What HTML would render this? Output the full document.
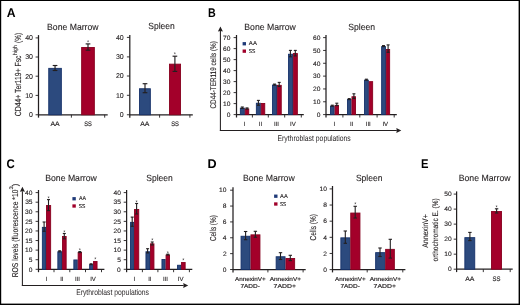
<!DOCTYPE html>
<html><head><meta charset="utf-8"><style>
html,body{margin:0;padding:0;background:#fff;}
svg{display:block;font-family:"Liberation Sans", sans-serif;will-change:transform;text-rendering:geometricPrecision;}
</style></head><body>
<svg width="520" height="305" viewBox="0 0 520 305">
<rect x="0" y="0" width="520" height="305" fill="#fff"/>
<text transform="translate(6.8,16.7) scale(0.97,1)" font-size="12.6" font-weight="bold" fill="#000">A</text>
<text transform="translate(208.0,16.7) scale(0.85,1)" font-size="12.6" font-weight="bold" fill="#000">B</text>
<text transform="translate(6.4,167.9) scale(0.91,1)" font-size="12.6" font-weight="bold" fill="#000">C</text>
<text transform="translate(207.5,167.9) scale(1.0,1)" font-size="12.6" font-weight="bold" fill="#000">D</text>
<text transform="translate(420.9,167.9) scale(0.89,1)" font-size="12.6" font-weight="bold" fill="#000">E</text>
<text x="47.09" y="29.5" font-size="9.0" fill="#231f20" stroke="#231f20" stroke-width="0.1" textLength="51.49" lengthAdjust="spacingAndGlyphs">Bone Marrow</text>
<text x="148.22" y="29.4" font-size="9.0" fill="#231f20" stroke="#231f20" stroke-width="0.1" textLength="26.55" lengthAdjust="spacingAndGlyphs">Spleen</text>
<text x="244.28" y="29.5" font-size="9.0" fill="#231f20" stroke="#231f20" stroke-width="0.1" textLength="51.59" lengthAdjust="spacingAndGlyphs">Bone Marrow</text>
<text x="348.31" y="29.8" font-size="9.0" fill="#231f20" stroke="#231f20" stroke-width="0.1" textLength="26.86" lengthAdjust="spacingAndGlyphs">Spleen</text>
<text x="45.18" y="181.1" font-size="9.0" fill="#231f20" stroke="#231f20" stroke-width="0.1" textLength="51.69" lengthAdjust="spacingAndGlyphs">Bone Marrow</text>
<text x="146.22" y="181.1" font-size="9.0" fill="#231f20" stroke="#231f20" stroke-width="0.1" textLength="26.55" lengthAdjust="spacingAndGlyphs">Spleen</text>
<text x="242.88" y="181.2" font-size="9.0" fill="#231f20" stroke="#231f20" stroke-width="0.1" textLength="51.89" lengthAdjust="spacingAndGlyphs">Bone Marrow</text>
<text x="355.91" y="181.1" font-size="9.0" fill="#231f20" stroke="#231f20" stroke-width="0.1" textLength="26.65" lengthAdjust="spacingAndGlyphs">Spleen</text>
<text x="458.68" y="181.2" font-size="9.0" fill="#231f20" stroke="#231f20" stroke-width="0.1" textLength="51.89" lengthAdjust="spacingAndGlyphs">Bone Marrow</text>
<line x1="38.5" y1="35.1" x2="38.5" y2="117.65" stroke="#231f20" stroke-width="1.25"/>
<line x1="35.6" y1="114.75" x2="38.5" y2="114.75" stroke="#231f20" stroke-width="0.9"/>
<text x="29.08" y="117.21" font-size="7.0" fill="#231f20" stroke="#231f20" stroke-width="0.12" textLength="3.89" lengthAdjust="spacingAndGlyphs">0</text>
<line x1="35.6" y1="95.4" x2="38.5" y2="95.4" stroke="#231f20" stroke-width="0.9"/>
<text x="25.19" y="97.86" font-size="7.0" fill="#231f20" stroke="#231f20" stroke-width="0.12" textLength="7.79" lengthAdjust="spacingAndGlyphs">10</text>
<line x1="35.6" y1="76.2" x2="38.5" y2="76.2" stroke="#231f20" stroke-width="0.9"/>
<text x="25.19" y="78.66" font-size="7.0" fill="#231f20" stroke="#231f20" stroke-width="0.12" textLength="7.79" lengthAdjust="spacingAndGlyphs">20</text>
<line x1="35.6" y1="57" x2="38.5" y2="57" stroke="#231f20" stroke-width="0.9"/>
<text x="25.19" y="59.46" font-size="7.0" fill="#231f20" stroke="#231f20" stroke-width="0.12" textLength="7.79" lengthAdjust="spacingAndGlyphs">30</text>
<line x1="35.6" y1="37.9" x2="38.5" y2="37.9" stroke="#231f20" stroke-width="0.9"/>
<text x="25.19" y="40.36" font-size="7.0" fill="#231f20" stroke="#231f20" stroke-width="0.12" textLength="7.79" lengthAdjust="spacingAndGlyphs">40</text>
<line x1="38.5" y1="114.75" x2="107.7" y2="114.75" stroke="#231f20" stroke-width="1.25"/>
<line x1="71.4" y1="114.75" x2="71.4" y2="117.65" stroke="#231f20" stroke-width="0.9"/>
<line x1="104.7" y1="114.75" x2="104.7" y2="117.65" stroke="#231f20" stroke-width="0.9"/>
<rect x="48.75" y="68.35" width="12.6" height="46.4" fill="#2c4a7e" stroke="#16316a" stroke-width="0.9"/>
<rect x="81.65" y="47.45" width="12.7" height="67.3" fill="#a3002a" stroke="#88001f" stroke-width="0.9"/>
<line x1="55.05" y1="65.5" x2="55.05" y2="70.5" stroke="#231f20" stroke-width="1.15"/>
<line x1="52.7" y1="65.5" x2="57.4" y2="65.5" stroke="#231f20" stroke-width="1.15"/>
<line x1="52.7" y1="70.5" x2="57.4" y2="70.5" stroke="#231f20" stroke-width="1.15"/>
<line x1="88" y1="43.9" x2="88" y2="50.2" stroke="#231f20" stroke-width="1.15"/>
<line x1="85.65" y1="43.9" x2="90.35" y2="43.9" stroke="#231f20" stroke-width="1.15"/>
<line x1="85.65" y1="50.2" x2="90.35" y2="50.2" stroke="#231f20" stroke-width="1.15"/>
<text x="88" y="43.82" font-size="5.5" text-anchor="middle" fill="#231f20">*</text>
<text x="50.48" y="125.9" font-size="6.6" fill="#231f20" stroke="#231f20" stroke-width="0.15" textLength="9.23" lengthAdjust="spacingAndGlyphs">AA</text>
<text x="84.14" y="125.9" font-size="6.6" fill="#231f20" stroke="#231f20" stroke-width="0.15" textLength="7.62" lengthAdjust="spacingAndGlyphs">SS</text>
<text transform="rotate(-90)" x="-116.24" y="20.5" font-size="8.8" fill="#231f20" stroke="#231f20" stroke-width="0.12" textLength="60.73" lengthAdjust="spacingAndGlyphs">CD44+ Ter119+ Fsc</text>
<text transform="rotate(-90)" x="-54.96" y="16.6" font-size="5.8" fill="#231f20" stroke="#231f20" stroke-width="0.12" textLength="9.7" lengthAdjust="spacingAndGlyphs">high</text>
<text transform="rotate(-90)" x="-43.01" y="20.5" font-size="8.8" fill="#231f20" stroke="#231f20" stroke-width="0.12" textLength="10.11" lengthAdjust="spacingAndGlyphs">(%)</text>
<line x1="129.8" y1="35" x2="129.8" y2="117.65" stroke="#231f20" stroke-width="1.25"/>
<line x1="126.9" y1="114.75" x2="129.8" y2="114.75" stroke="#231f20" stroke-width="0.9"/>
<text x="119.78" y="117.21" font-size="7.0" fill="#231f20" stroke="#231f20" stroke-width="0.12" textLength="3.89" lengthAdjust="spacingAndGlyphs">0</text>
<line x1="126.9" y1="95.3" x2="129.8" y2="95.3" stroke="#231f20" stroke-width="0.9"/>
<text x="115.89" y="97.76" font-size="7.0" fill="#231f20" stroke="#231f20" stroke-width="0.12" textLength="7.79" lengthAdjust="spacingAndGlyphs">10</text>
<line x1="126.9" y1="76" x2="129.8" y2="76" stroke="#231f20" stroke-width="0.9"/>
<text x="115.89" y="78.46" font-size="7.0" fill="#231f20" stroke="#231f20" stroke-width="0.12" textLength="7.79" lengthAdjust="spacingAndGlyphs">20</text>
<line x1="126.9" y1="56.9" x2="129.8" y2="56.9" stroke="#231f20" stroke-width="0.9"/>
<text x="115.89" y="59.36" font-size="7.0" fill="#231f20" stroke="#231f20" stroke-width="0.12" textLength="7.79" lengthAdjust="spacingAndGlyphs">30</text>
<line x1="126.9" y1="37.4" x2="129.8" y2="37.4" stroke="#231f20" stroke-width="0.9"/>
<text x="115.89" y="39.86" font-size="7.0" fill="#231f20" stroke="#231f20" stroke-width="0.12" textLength="7.79" lengthAdjust="spacingAndGlyphs">40</text>
<line x1="129.8" y1="114.75" x2="192.8" y2="114.75" stroke="#231f20" stroke-width="1.25"/>
<line x1="159.6" y1="114.75" x2="159.6" y2="117.65" stroke="#231f20" stroke-width="0.9"/>
<line x1="189.9" y1="114.75" x2="189.9" y2="117.65" stroke="#231f20" stroke-width="0.9"/>
<rect x="139.45" y="88.75" width="10.9" height="26" fill="#2c4a7e" stroke="#16316a" stroke-width="0.9"/>
<rect x="169.45" y="64.15" width="11.1" height="50.6" fill="#a3002a" stroke="#88001f" stroke-width="0.9"/>
<line x1="145" y1="83.7" x2="145" y2="92.7" stroke="#231f20" stroke-width="1.15"/>
<line x1="142.65" y1="83.7" x2="147.35" y2="83.7" stroke="#231f20" stroke-width="1.15"/>
<line x1="142.65" y1="92.7" x2="147.35" y2="92.7" stroke="#231f20" stroke-width="1.15"/>
<line x1="174.9" y1="56.2" x2="174.9" y2="71.4" stroke="#231f20" stroke-width="1.15"/>
<line x1="172.55" y1="56.2" x2="177.25" y2="56.2" stroke="#231f20" stroke-width="1.15"/>
<line x1="172.55" y1="71.4" x2="177.25" y2="71.4" stroke="#231f20" stroke-width="1.15"/>
<text x="174.9" y="56.22" font-size="5.5" text-anchor="middle" fill="#231f20">*</text>
<text x="140.18" y="125.9" font-size="6.6" fill="#231f20" stroke="#231f20" stroke-width="0.15" textLength="9.13" lengthAdjust="spacingAndGlyphs">AA</text>
<text x="171.14" y="125.9" font-size="6.6" fill="#231f20" stroke="#231f20" stroke-width="0.15" textLength="7.73" lengthAdjust="spacingAndGlyphs">SS</text>
<line x1="220.4" y1="31.1" x2="220.4" y2="131.03" stroke="#231f20" stroke-width="1.05"/>
<line x1="219.88" y1="130.5" x2="396.8" y2="130.5" stroke="#231f20" stroke-width="1.05"/>
<polygon points="220.4,26.6 222.9,31.6 220.4,31.1 217.9,31.6" fill="#231f20"/>
<polygon points="401.3,130.5 396.3,133 396.8,130.5 396.3,128" fill="#231f20"/>
<text transform="rotate(-90)" x="-108.52" y="215.8" font-size="8.2" fill="#231f20" stroke="#231f20" stroke-width="0.12" textLength="67.32" lengthAdjust="spacingAndGlyphs">CD44-TER119 cells (%)</text>
<text x="277.44" y="140.8" font-size="8.3" fill="#231f20" textLength="73.29" lengthAdjust="spacingAndGlyphs">Erythroblast populations</text>
<line x1="236.5" y1="35" x2="236.5" y2="117.5" stroke="#231f20" stroke-width="1.25"/>
<line x1="233.6" y1="114.6" x2="236.5" y2="114.6" stroke="#231f20" stroke-width="0.9"/>
<text x="226.84" y="116.82" font-size="6.3" fill="#231f20" stroke="#231f20" stroke-width="0.12" textLength="3.71" lengthAdjust="spacingAndGlyphs">0</text>
<line x1="233.6" y1="103.6" x2="236.5" y2="103.6" stroke="#231f20" stroke-width="0.9"/>
<text x="223.14" y="105.82" font-size="6.3" fill="#231f20" stroke="#231f20" stroke-width="0.12" textLength="7.43" lengthAdjust="spacingAndGlyphs">10</text>
<line x1="233.6" y1="92.6" x2="236.5" y2="92.6" stroke="#231f20" stroke-width="0.9"/>
<text x="223.14" y="94.82" font-size="6.3" fill="#231f20" stroke="#231f20" stroke-width="0.12" textLength="7.43" lengthAdjust="spacingAndGlyphs">20</text>
<line x1="233.6" y1="81.6" x2="236.5" y2="81.6" stroke="#231f20" stroke-width="0.9"/>
<text x="223.14" y="83.82" font-size="6.3" fill="#231f20" stroke="#231f20" stroke-width="0.12" textLength="7.43" lengthAdjust="spacingAndGlyphs">30</text>
<line x1="233.6" y1="70.6" x2="236.5" y2="70.6" stroke="#231f20" stroke-width="0.9"/>
<text x="223.14" y="72.82" font-size="6.3" fill="#231f20" stroke="#231f20" stroke-width="0.12" textLength="7.43" lengthAdjust="spacingAndGlyphs">40</text>
<line x1="233.6" y1="59.6" x2="236.5" y2="59.6" stroke="#231f20" stroke-width="0.9"/>
<text x="223.14" y="61.82" font-size="6.3" fill="#231f20" stroke="#231f20" stroke-width="0.12" textLength="7.43" lengthAdjust="spacingAndGlyphs">50</text>
<line x1="233.6" y1="48.6" x2="236.5" y2="48.6" stroke="#231f20" stroke-width="0.9"/>
<text x="223.14" y="50.82" font-size="6.3" fill="#231f20" stroke="#231f20" stroke-width="0.12" textLength="7.43" lengthAdjust="spacingAndGlyphs">60</text>
<line x1="233.6" y1="37.6" x2="236.5" y2="37.6" stroke="#231f20" stroke-width="0.9"/>
<text x="223.14" y="39.82" font-size="6.3" fill="#231f20" stroke="#231f20" stroke-width="0.12" textLength="7.43" lengthAdjust="spacingAndGlyphs">70</text>
<line x1="236.5" y1="114.6" x2="303.8" y2="114.6" stroke="#231f20" stroke-width="1.25"/>
<line x1="252.4" y1="114.6" x2="252.4" y2="117.5" stroke="#231f20" stroke-width="0.9"/>
<line x1="268.3" y1="114.6" x2="268.3" y2="117.5" stroke="#231f20" stroke-width="0.9"/>
<line x1="284.7" y1="114.6" x2="284.7" y2="117.5" stroke="#231f20" stroke-width="0.9"/>
<line x1="301.3" y1="114.6" x2="301.3" y2="117.5" stroke="#231f20" stroke-width="0.9"/>
<rect x="240.35" y="108.15" width="4" height="6.45" fill="#2c4a7e" stroke="#16316a" stroke-width="0.9"/>
<rect x="245.25" y="108.95" width="3.5" height="5.65" fill="#a3002a" stroke="#88001f" stroke-width="0.9"/>
<rect x="256.35" y="103.25" width="4" height="11.35" fill="#2c4a7e" stroke="#16316a" stroke-width="0.9"/>
<rect x="261.25" y="103.45" width="3.5" height="11.15" fill="#a3002a" stroke="#88001f" stroke-width="0.9"/>
<rect x="272.55" y="85.05" width="3.9" height="29.55" fill="#2c4a7e" stroke="#16316a" stroke-width="0.9"/>
<rect x="277.35" y="85.35" width="3.9" height="29.25" fill="#a3002a" stroke="#88001f" stroke-width="0.9"/>
<rect x="288.55" y="54.25" width="3.9" height="60.35" fill="#2c4a7e" stroke="#16316a" stroke-width="0.9"/>
<rect x="293.35" y="53.55" width="4" height="61.05" fill="#a3002a" stroke="#88001f" stroke-width="0.9"/>
<line x1="242.3" y1="107" x2="242.3" y2="108.4" stroke="#231f20" stroke-width="1.1"/>
<line x1="240.8" y1="107" x2="243.8" y2="107" stroke="#231f20" stroke-width="1.1"/>
<line x1="240.8" y1="108.4" x2="243.8" y2="108.4" stroke="#231f20" stroke-width="1.1"/>
<line x1="247" y1="107.9" x2="247" y2="109.1" stroke="#231f20" stroke-width="1.1"/>
<line x1="245.5" y1="107.9" x2="248.5" y2="107.9" stroke="#231f20" stroke-width="1.1"/>
<line x1="245.5" y1="109.1" x2="248.5" y2="109.1" stroke="#231f20" stroke-width="1.1"/>
<line x1="258.4" y1="100.4" x2="258.4" y2="105.3" stroke="#231f20" stroke-width="1.1"/>
<line x1="256.9" y1="100.4" x2="259.9" y2="100.4" stroke="#231f20" stroke-width="1.1"/>
<line x1="256.9" y1="105.3" x2="259.9" y2="105.3" stroke="#231f20" stroke-width="1.1"/>
<line x1="274.5" y1="84.1" x2="274.5" y2="85.1" stroke="#231f20" stroke-width="1.1"/>
<line x1="273" y1="84.1" x2="276" y2="84.1" stroke="#231f20" stroke-width="1.1"/>
<line x1="273" y1="85.1" x2="276" y2="85.1" stroke="#231f20" stroke-width="1.1"/>
<line x1="279.2" y1="82.4" x2="279.2" y2="86.5" stroke="#231f20" stroke-width="1.1"/>
<line x1="277.7" y1="82.4" x2="280.7" y2="82.4" stroke="#231f20" stroke-width="1.1"/>
<line x1="277.7" y1="86.5" x2="280.7" y2="86.5" stroke="#231f20" stroke-width="1.1"/>
<line x1="290.4" y1="50.4" x2="290.4" y2="56.8" stroke="#231f20" stroke-width="1.1"/>
<line x1="288.9" y1="50.4" x2="291.9" y2="50.4" stroke="#231f20" stroke-width="1.1"/>
<line x1="288.9" y1="56.8" x2="291.9" y2="56.8" stroke="#231f20" stroke-width="1.1"/>
<line x1="295.3" y1="50.4" x2="295.3" y2="55.9" stroke="#231f20" stroke-width="1.1"/>
<line x1="293.8" y1="50.4" x2="296.8" y2="50.4" stroke="#231f20" stroke-width="1.1"/>
<line x1="293.8" y1="55.9" x2="296.8" y2="55.9" stroke="#231f20" stroke-width="1.1"/>
<text x="243.77" y="126.3" font-size="6.0" fill="#231f20" stroke="#231f20" stroke-width="0.12" textLength="1.67" lengthAdjust="spacingAndGlyphs">I</text>
<text x="258.78" y="126.3" font-size="6.0" fill="#231f20" stroke="#231f20" stroke-width="0.12" textLength="3.33" lengthAdjust="spacingAndGlyphs">II</text>
<text x="274" y="126.3" font-size="6.0" fill="#231f20" stroke="#231f20" stroke-width="0.12" textLength="5" lengthAdjust="spacingAndGlyphs">III</text>
<text x="290" y="126.3" font-size="6.0" fill="#231f20" stroke="#231f20" stroke-width="0.12" textLength="5.67" lengthAdjust="spacingAndGlyphs">IV</text>
<rect x="242.6" y="42.1" width="3.4" height="3.3" fill="#1f3a78"/>
<rect x="242.6" y="49.5" width="3.4" height="3.3" fill="#a0002a"/>
<text x="248.88" y="45.4" font-size="5.6" fill="#231f20" stroke="#231f20" stroke-width="0.1" textLength="8.02" lengthAdjust="spacingAndGlyphs">AA</text>
<text x="248.68" y="52.85" font-size="5.6" fill="#231f20" stroke="#231f20" stroke-width="0.1" textLength="6.66" lengthAdjust="spacingAndGlyphs">SS</text>
<line x1="326" y1="35" x2="326" y2="117.5" stroke="#231f20" stroke-width="1.25"/>
<line x1="323.1" y1="114.6" x2="326" y2="114.6" stroke="#231f20" stroke-width="0.9"/>
<text x="316.84" y="116.82" font-size="6.3" fill="#231f20" stroke="#231f20" stroke-width="0.12" textLength="3.71" lengthAdjust="spacingAndGlyphs">0</text>
<line x1="323.1" y1="101.77" x2="326" y2="101.77" stroke="#231f20" stroke-width="0.9"/>
<text x="313.14" y="103.99" font-size="6.3" fill="#231f20" stroke="#231f20" stroke-width="0.12" textLength="7.43" lengthAdjust="spacingAndGlyphs">10</text>
<line x1="323.1" y1="88.94" x2="326" y2="88.94" stroke="#231f20" stroke-width="0.9"/>
<text x="313.14" y="91.16" font-size="6.3" fill="#231f20" stroke="#231f20" stroke-width="0.12" textLength="7.43" lengthAdjust="spacingAndGlyphs">20</text>
<line x1="323.1" y1="76.11" x2="326" y2="76.11" stroke="#231f20" stroke-width="0.9"/>
<text x="313.14" y="78.33" font-size="6.3" fill="#231f20" stroke="#231f20" stroke-width="0.12" textLength="7.43" lengthAdjust="spacingAndGlyphs">30</text>
<line x1="323.1" y1="63.28" x2="326" y2="63.28" stroke="#231f20" stroke-width="0.9"/>
<text x="313.14" y="65.5" font-size="6.3" fill="#231f20" stroke="#231f20" stroke-width="0.12" textLength="7.43" lengthAdjust="spacingAndGlyphs">40</text>
<line x1="323.1" y1="50.45" x2="326" y2="50.45" stroke="#231f20" stroke-width="0.9"/>
<text x="313.14" y="52.67" font-size="6.3" fill="#231f20" stroke="#231f20" stroke-width="0.12" textLength="7.43" lengthAdjust="spacingAndGlyphs">50</text>
<line x1="323.1" y1="37.62" x2="326" y2="37.62" stroke="#231f20" stroke-width="0.9"/>
<text x="313.14" y="39.84" font-size="6.3" fill="#231f20" stroke="#231f20" stroke-width="0.12" textLength="7.43" lengthAdjust="spacingAndGlyphs">60</text>
<line x1="326" y1="114.6" x2="396.8" y2="114.6" stroke="#231f20" stroke-width="1.25"/>
<line x1="342.9" y1="114.6" x2="342.9" y2="117.5" stroke="#231f20" stroke-width="0.9"/>
<line x1="359.8" y1="114.6" x2="359.8" y2="117.5" stroke="#231f20" stroke-width="0.9"/>
<line x1="377.1" y1="114.6" x2="377.1" y2="117.5" stroke="#231f20" stroke-width="0.9"/>
<line x1="394.2" y1="114.6" x2="394.2" y2="117.5" stroke="#231f20" stroke-width="0.9"/>
<rect x="330.45" y="106.15" width="3.7" height="8.45" fill="#2c4a7e" stroke="#16316a" stroke-width="0.9"/>
<rect x="335.05" y="105.35" width="3.5" height="9.25" fill="#a3002a" stroke="#88001f" stroke-width="0.9"/>
<rect x="347.45" y="99.55" width="3.6" height="15.05" fill="#2c4a7e" stroke="#16316a" stroke-width="0.9"/>
<rect x="351.95" y="96.75" width="3.6" height="17.85" fill="#a3002a" stroke="#88001f" stroke-width="0.9"/>
<rect x="364.55" y="80.15" width="3.8" height="34.45" fill="#2c4a7e" stroke="#16316a" stroke-width="0.9"/>
<rect x="369.25" y="81.65" width="3.4" height="32.95" fill="#a3002a" stroke="#88001f" stroke-width="0.9"/>
<rect x="381.65" y="46.55" width="3.8" height="68.05" fill="#2c4a7e" stroke="#16316a" stroke-width="0.9"/>
<rect x="386.35" y="49.45" width="3.3" height="65.15" fill="#a3002a" stroke="#88001f" stroke-width="0.9"/>
<line x1="332.3" y1="105.2" x2="332.3" y2="106.2" stroke="#231f20" stroke-width="1.1"/>
<line x1="330.8" y1="105.2" x2="333.8" y2="105.2" stroke="#231f20" stroke-width="1.1"/>
<line x1="330.8" y1="106.2" x2="333.8" y2="106.2" stroke="#231f20" stroke-width="1.1"/>
<line x1="336.8" y1="103.2" x2="336.8" y2="105.6" stroke="#231f20" stroke-width="1.1"/>
<line x1="335.3" y1="103.2" x2="338.3" y2="103.2" stroke="#231f20" stroke-width="1.1"/>
<line x1="335.3" y1="105.6" x2="338.3" y2="105.6" stroke="#231f20" stroke-width="1.1"/>
<line x1="349.2" y1="98.6" x2="349.2" y2="99.6" stroke="#231f20" stroke-width="1.1"/>
<line x1="347.7" y1="98.6" x2="350.7" y2="98.6" stroke="#231f20" stroke-width="1.1"/>
<line x1="347.7" y1="99.6" x2="350.7" y2="99.6" stroke="#231f20" stroke-width="1.1"/>
<line x1="353.9" y1="93.8" x2="353.9" y2="98.5" stroke="#231f20" stroke-width="1.1"/>
<line x1="352.4" y1="93.8" x2="355.4" y2="93.8" stroke="#231f20" stroke-width="1.1"/>
<line x1="352.4" y1="98.5" x2="355.4" y2="98.5" stroke="#231f20" stroke-width="1.1"/>
<line x1="366.4" y1="79.2" x2="366.4" y2="80.2" stroke="#231f20" stroke-width="1.1"/>
<line x1="364.9" y1="79.2" x2="367.9" y2="79.2" stroke="#231f20" stroke-width="1.1"/>
<line x1="364.9" y1="80.2" x2="367.9" y2="80.2" stroke="#231f20" stroke-width="1.1"/>
<line x1="383.5" y1="45.6" x2="383.5" y2="46.6" stroke="#231f20" stroke-width="1.1"/>
<line x1="382" y1="45.6" x2="385" y2="45.6" stroke="#231f20" stroke-width="1.1"/>
<line x1="382" y1="46.6" x2="385" y2="46.6" stroke="#231f20" stroke-width="1.1"/>
<line x1="388.1" y1="44.9" x2="388.1" y2="52.3" stroke="#231f20" stroke-width="1.1"/>
<line x1="386.6" y1="44.9" x2="389.6" y2="44.9" stroke="#231f20" stroke-width="1.1"/>
<line x1="386.6" y1="52.3" x2="389.6" y2="52.3" stroke="#231f20" stroke-width="1.1"/>
<text x="333.57" y="126.3" font-size="6.0" fill="#231f20" stroke="#231f20" stroke-width="0.12" textLength="1.67" lengthAdjust="spacingAndGlyphs">I</text>
<text x="350.03" y="126.3" font-size="6.0" fill="#231f20" stroke="#231f20" stroke-width="0.12" textLength="3.33" lengthAdjust="spacingAndGlyphs">II</text>
<text x="365.8" y="126.3" font-size="6.0" fill="#231f20" stroke="#231f20" stroke-width="0.12" textLength="5" lengthAdjust="spacingAndGlyphs">III</text>
<text x="382.4" y="126.3" font-size="6.0" fill="#231f20" stroke="#231f20" stroke-width="0.12" textLength="5.67" lengthAdjust="spacingAndGlyphs">IV</text>
<line x1="22.4" y1="191.2" x2="22.4" y2="286.02" stroke="#231f20" stroke-width="1.05"/>
<line x1="21.88" y1="285.5" x2="183.7" y2="285.5" stroke="#231f20" stroke-width="1.05"/>
<polygon points="22.4,186.7 24.9,191.7 22.4,191.2 19.9,191.7" fill="#231f20"/>
<polygon points="188.2,285.5 183.2,288 183.7,285.5 183.2,283" fill="#231f20"/>
<text transform="rotate(-90)" x="-277.25" y="17.7" font-size="8.5" fill="#231f20" stroke="#231f20" stroke-width="0.12" textLength="87.62" lengthAdjust="spacingAndGlyphs">ROS levels (fluorescence *10</text>
<text transform="rotate(-90)" x="-189.62" y="13.4" font-size="5.4" fill="#231f20" stroke="#231f20" stroke-width="0.12" textLength="3.28" lengthAdjust="spacingAndGlyphs">3</text>
<text transform="rotate(-90)" x="-186.35" y="17.7" font-size="8.5" fill="#231f20" stroke="#231f20" stroke-width="0.12" textLength="2.41" lengthAdjust="spacingAndGlyphs">)</text>
<text x="76.14" y="295.4" font-size="8.3" fill="#231f20" textLength="72.89" lengthAdjust="spacingAndGlyphs">Erythroblast populations</text>
<line x1="38.5" y1="190" x2="38.5" y2="272.2" stroke="#231f20" stroke-width="1.25"/>
<line x1="35.6" y1="269.3" x2="38.5" y2="269.3" stroke="#231f20" stroke-width="0.9"/>
<text x="28.84" y="271.52" font-size="6.3" fill="#231f20" stroke="#231f20" stroke-width="0.12" textLength="3.71" lengthAdjust="spacingAndGlyphs">0</text>
<line x1="35.6" y1="259.71" x2="38.5" y2="259.71" stroke="#231f20" stroke-width="0.9"/>
<text x="28.86" y="261.93" font-size="6.3" fill="#231f20" stroke="#231f20" stroke-width="0.12" textLength="3.71" lengthAdjust="spacingAndGlyphs">5</text>
<line x1="35.6" y1="250.12" x2="38.5" y2="250.12" stroke="#231f20" stroke-width="0.9"/>
<text x="25.14" y="252.34" font-size="6.3" fill="#231f20" stroke="#231f20" stroke-width="0.12" textLength="7.43" lengthAdjust="spacingAndGlyphs">10</text>
<line x1="35.6" y1="240.54" x2="38.5" y2="240.54" stroke="#231f20" stroke-width="0.9"/>
<text x="25.15" y="242.75" font-size="6.3" fill="#231f20" stroke="#231f20" stroke-width="0.12" textLength="7.43" lengthAdjust="spacingAndGlyphs">15</text>
<line x1="35.6" y1="230.95" x2="38.5" y2="230.95" stroke="#231f20" stroke-width="0.9"/>
<text x="25.14" y="233.17" font-size="6.3" fill="#231f20" stroke="#231f20" stroke-width="0.12" textLength="7.43" lengthAdjust="spacingAndGlyphs">20</text>
<line x1="35.6" y1="221.36" x2="38.5" y2="221.36" stroke="#231f20" stroke-width="0.9"/>
<text x="25.15" y="223.58" font-size="6.3" fill="#231f20" stroke="#231f20" stroke-width="0.12" textLength="7.43" lengthAdjust="spacingAndGlyphs">25</text>
<line x1="35.6" y1="211.78" x2="38.5" y2="211.78" stroke="#231f20" stroke-width="0.9"/>
<text x="25.14" y="213.99" font-size="6.3" fill="#231f20" stroke="#231f20" stroke-width="0.12" textLength="7.43" lengthAdjust="spacingAndGlyphs">30</text>
<line x1="35.6" y1="202.19" x2="38.5" y2="202.19" stroke="#231f20" stroke-width="0.9"/>
<text x="25.15" y="204.4" font-size="6.3" fill="#231f20" stroke="#231f20" stroke-width="0.12" textLength="7.43" lengthAdjust="spacingAndGlyphs">35</text>
<line x1="35.6" y1="192.6" x2="38.5" y2="192.6" stroke="#231f20" stroke-width="0.9"/>
<text x="25.14" y="194.82" font-size="6.3" fill="#231f20" stroke="#231f20" stroke-width="0.12" textLength="7.43" lengthAdjust="spacingAndGlyphs">40</text>
<line x1="38.5" y1="269.3" x2="104.4" y2="269.3" stroke="#231f20" stroke-width="1.25"/>
<line x1="54" y1="269.3" x2="54" y2="272.2" stroke="#231f20" stroke-width="0.9"/>
<line x1="69.8" y1="269.3" x2="69.8" y2="272.2" stroke="#231f20" stroke-width="0.9"/>
<line x1="85.5" y1="269.3" x2="85.5" y2="272.2" stroke="#231f20" stroke-width="0.9"/>
<line x1="101.5" y1="269.3" x2="101.5" y2="272.2" stroke="#231f20" stroke-width="0.9"/>
<rect x="42.35" y="227.35" width="3.2" height="41.95" fill="#2c4a7e" stroke="#16316a" stroke-width="0.9"/>
<rect x="46.45" y="205.55" width="4.2" height="63.75" fill="#a3002a" stroke="#88001f" stroke-width="0.9"/>
<rect x="57.85" y="251.75" width="3.7" height="17.55" fill="#2c4a7e" stroke="#16316a" stroke-width="0.9"/>
<rect x="62.45" y="236.45" width="3.7" height="32.85" fill="#a3002a" stroke="#88001f" stroke-width="0.9"/>
<rect x="73.85" y="259.95" width="3.4" height="9.35" fill="#2c4a7e" stroke="#16316a" stroke-width="0.9"/>
<rect x="78.15" y="252.45" width="3.4" height="16.85" fill="#a3002a" stroke="#88001f" stroke-width="0.9"/>
<rect x="89.65" y="264.65" width="3" height="4.65" fill="#2c4a7e" stroke="#16316a" stroke-width="0.9"/>
<rect x="93.55" y="261.45" width="3.5" height="7.85" fill="#a3002a" stroke="#88001f" stroke-width="0.9"/>
<line x1="44.1" y1="222" x2="44.1" y2="231.3" stroke="#231f20" stroke-width="1.1"/>
<line x1="42.6" y1="222" x2="45.6" y2="222" stroke="#231f20" stroke-width="1.1"/>
<line x1="42.6" y1="231.3" x2="45.6" y2="231.3" stroke="#231f20" stroke-width="1.1"/>
<line x1="48.5" y1="199.6" x2="48.5" y2="210.6" stroke="#231f20" stroke-width="1.1"/>
<line x1="47" y1="199.6" x2="50" y2="199.6" stroke="#231f20" stroke-width="1.1"/>
<line x1="47" y1="210.6" x2="50" y2="210.6" stroke="#231f20" stroke-width="1.1"/>
<text x="48.5" y="199.92" font-size="5.5" text-anchor="middle" fill="#231f20">*</text>
<line x1="59.7" y1="250.8" x2="59.7" y2="251.8" stroke="#231f20" stroke-width="1.1"/>
<line x1="58.2" y1="250.8" x2="61.2" y2="250.8" stroke="#231f20" stroke-width="1.1"/>
<line x1="58.2" y1="251.8" x2="61.2" y2="251.8" stroke="#231f20" stroke-width="1.1"/>
<line x1="64.3" y1="233.5" x2="64.3" y2="238.8" stroke="#231f20" stroke-width="1.1"/>
<line x1="62.8" y1="233.5" x2="65.8" y2="233.5" stroke="#231f20" stroke-width="1.1"/>
<line x1="62.8" y1="238.8" x2="65.8" y2="238.8" stroke="#231f20" stroke-width="1.1"/>
<text x="64.3" y="233.62" font-size="5.5" text-anchor="middle" fill="#231f20">*</text>
<line x1="79.8" y1="251.6" x2="79.8" y2="252.6" stroke="#231f20" stroke-width="1.1"/>
<line x1="78.3" y1="251.6" x2="81.3" y2="251.6" stroke="#231f20" stroke-width="1.1"/>
<line x1="78.3" y1="252.6" x2="81.3" y2="252.6" stroke="#231f20" stroke-width="1.1"/>
<text x="79.8" y="251.62" font-size="5.5" text-anchor="middle" fill="#231f20">*</text>
<line x1="91.1" y1="263.8" x2="91.1" y2="264.6" stroke="#231f20" stroke-width="1.1"/>
<line x1="89.6" y1="263.8" x2="92.6" y2="263.8" stroke="#231f20" stroke-width="1.1"/>
<line x1="89.6" y1="264.6" x2="92.6" y2="264.6" stroke="#231f20" stroke-width="1.1"/>
<text x="95.3" y="261.22" font-size="5.5" text-anchor="middle" fill="#231f20">*</text>
<text x="45.67" y="281" font-size="6.0" fill="#231f20" stroke="#231f20" stroke-width="0.12" textLength="1.67" lengthAdjust="spacingAndGlyphs">I</text>
<text x="60.13" y="281" font-size="6.0" fill="#231f20" stroke="#231f20" stroke-width="0.12" textLength="3.33" lengthAdjust="spacingAndGlyphs">II</text>
<text x="74.9" y="281" font-size="6.0" fill="#231f20" stroke="#231f20" stroke-width="0.12" textLength="5" lengthAdjust="spacingAndGlyphs">III</text>
<text x="90.2" y="281" font-size="6.0" fill="#231f20" stroke="#231f20" stroke-width="0.12" textLength="5.67" lengthAdjust="spacingAndGlyphs">IV</text>
<rect x="72.4" y="197.1" width="3.4" height="3.3" fill="#1f3a78"/>
<rect x="72.4" y="204.35" width="3.4" height="3.3" fill="#a0002a"/>
<text x="78.89" y="200.4" font-size="5.6" fill="#231f20" stroke="#231f20" stroke-width="0.1" textLength="7.12" lengthAdjust="spacingAndGlyphs">AA</text>
<text x="78.68" y="207.7" font-size="5.6" fill="#231f20" stroke="#231f20" stroke-width="0.1" textLength="6.66" lengthAdjust="spacingAndGlyphs">SS</text>
<line x1="126.6" y1="190" x2="126.6" y2="272.2" stroke="#231f20" stroke-width="1.25"/>
<line x1="123.7" y1="269.3" x2="126.6" y2="269.3" stroke="#231f20" stroke-width="0.9"/>
<text x="117.14" y="271.52" font-size="6.3" fill="#231f20" stroke="#231f20" stroke-width="0.12" textLength="3.71" lengthAdjust="spacingAndGlyphs">0</text>
<line x1="123.7" y1="259.71" x2="126.6" y2="259.71" stroke="#231f20" stroke-width="0.9"/>
<text x="117.16" y="261.93" font-size="6.3" fill="#231f20" stroke="#231f20" stroke-width="0.12" textLength="3.71" lengthAdjust="spacingAndGlyphs">5</text>
<line x1="123.7" y1="250.12" x2="126.6" y2="250.12" stroke="#231f20" stroke-width="0.9"/>
<text x="113.44" y="252.34" font-size="6.3" fill="#231f20" stroke="#231f20" stroke-width="0.12" textLength="7.43" lengthAdjust="spacingAndGlyphs">10</text>
<line x1="123.7" y1="240.54" x2="126.6" y2="240.54" stroke="#231f20" stroke-width="0.9"/>
<text x="113.45" y="242.75" font-size="6.3" fill="#231f20" stroke="#231f20" stroke-width="0.12" textLength="7.43" lengthAdjust="spacingAndGlyphs">15</text>
<line x1="123.7" y1="230.95" x2="126.6" y2="230.95" stroke="#231f20" stroke-width="0.9"/>
<text x="113.44" y="233.17" font-size="6.3" fill="#231f20" stroke="#231f20" stroke-width="0.12" textLength="7.43" lengthAdjust="spacingAndGlyphs">20</text>
<line x1="123.7" y1="221.36" x2="126.6" y2="221.36" stroke="#231f20" stroke-width="0.9"/>
<text x="113.45" y="223.58" font-size="6.3" fill="#231f20" stroke="#231f20" stroke-width="0.12" textLength="7.43" lengthAdjust="spacingAndGlyphs">25</text>
<line x1="123.7" y1="211.78" x2="126.6" y2="211.78" stroke="#231f20" stroke-width="0.9"/>
<text x="113.44" y="213.99" font-size="6.3" fill="#231f20" stroke="#231f20" stroke-width="0.12" textLength="7.43" lengthAdjust="spacingAndGlyphs">30</text>
<line x1="123.7" y1="202.19" x2="126.6" y2="202.19" stroke="#231f20" stroke-width="0.9"/>
<text x="113.45" y="204.4" font-size="6.3" fill="#231f20" stroke="#231f20" stroke-width="0.12" textLength="7.43" lengthAdjust="spacingAndGlyphs">35</text>
<line x1="123.7" y1="192.6" x2="126.6" y2="192.6" stroke="#231f20" stroke-width="0.9"/>
<text x="113.44" y="194.82" font-size="6.3" fill="#231f20" stroke="#231f20" stroke-width="0.12" textLength="7.43" lengthAdjust="spacingAndGlyphs">40</text>
<line x1="126.6" y1="269.3" x2="192.3" y2="269.3" stroke="#231f20" stroke-width="1.25"/>
<line x1="142.4" y1="269.3" x2="142.4" y2="272.2" stroke="#231f20" stroke-width="0.9"/>
<line x1="157.9" y1="269.3" x2="157.9" y2="272.2" stroke="#231f20" stroke-width="0.9"/>
<line x1="173.6" y1="269.3" x2="173.6" y2="272.2" stroke="#231f20" stroke-width="0.9"/>
<line x1="189.4" y1="269.3" x2="189.4" y2="272.2" stroke="#231f20" stroke-width="0.9"/>
<rect x="130.55" y="222.35" width="3.1" height="46.95" fill="#2c4a7e" stroke="#16316a" stroke-width="0.9"/>
<rect x="134.55" y="209.45" width="4.2" height="59.85" fill="#a3002a" stroke="#88001f" stroke-width="0.9"/>
<rect x="145.95" y="251.75" width="3.6" height="17.55" fill="#2c4a7e" stroke="#16316a" stroke-width="0.9"/>
<rect x="150.45" y="243.85" width="3.5" height="25.45" fill="#a3002a" stroke="#88001f" stroke-width="0.9"/>
<rect x="161.95" y="259.55" width="3.2" height="9.75" fill="#2c4a7e" stroke="#16316a" stroke-width="0.9"/>
<rect x="166.05" y="255.05" width="3.5" height="14.25" fill="#a3002a" stroke="#88001f" stroke-width="0.9"/>
<rect x="177.55" y="265.25" width="3.1" height="4.05" fill="#2c4a7e" stroke="#16316a" stroke-width="0.9"/>
<rect x="181.55" y="262.55" width="3.6" height="6.75" fill="#a3002a" stroke="#88001f" stroke-width="0.9"/>
<line x1="132.2" y1="217.1" x2="132.2" y2="226.3" stroke="#231f20" stroke-width="1.1"/>
<line x1="130.7" y1="217.1" x2="133.7" y2="217.1" stroke="#231f20" stroke-width="1.1"/>
<line x1="130.7" y1="226.3" x2="133.7" y2="226.3" stroke="#231f20" stroke-width="1.1"/>
<line x1="136.6" y1="203.5" x2="136.6" y2="214" stroke="#231f20" stroke-width="1.1"/>
<line x1="135.1" y1="203.5" x2="138.1" y2="203.5" stroke="#231f20" stroke-width="1.1"/>
<line x1="135.1" y1="214" x2="138.1" y2="214" stroke="#231f20" stroke-width="1.1"/>
<text x="136.5" y="203.92" font-size="5.5" text-anchor="middle" fill="#231f20">*</text>
<line x1="147.6" y1="248.7" x2="147.6" y2="252.9" stroke="#231f20" stroke-width="1.1"/>
<line x1="146.1" y1="248.7" x2="149.1" y2="248.7" stroke="#231f20" stroke-width="1.1"/>
<line x1="146.1" y1="252.9" x2="149.1" y2="252.9" stroke="#231f20" stroke-width="1.1"/>
<line x1="152.2" y1="242" x2="152.2" y2="245" stroke="#231f20" stroke-width="1.1"/>
<line x1="150.7" y1="242" x2="153.7" y2="242" stroke="#231f20" stroke-width="1.1"/>
<line x1="150.7" y1="245" x2="153.7" y2="245" stroke="#231f20" stroke-width="1.1"/>
<text x="152.2" y="242.12" font-size="5.5" text-anchor="middle" fill="#231f20">*</text>
<line x1="167.8" y1="254.2" x2="167.8" y2="255" stroke="#231f20" stroke-width="1.1"/>
<line x1="166.3" y1="254.2" x2="169.3" y2="254.2" stroke="#231f20" stroke-width="1.1"/>
<line x1="166.3" y1="255" x2="169.3" y2="255" stroke="#231f20" stroke-width="1.1"/>
<text x="167.8" y="254.72" font-size="5.5" text-anchor="middle" fill="#231f20">*</text>
<text x="183.4" y="262.22" font-size="5.5" text-anchor="middle" fill="#231f20">*</text>
<text x="133.57" y="281" font-size="6.0" fill="#231f20" stroke="#231f20" stroke-width="0.12" textLength="1.67" lengthAdjust="spacingAndGlyphs">I</text>
<text x="148.13" y="281" font-size="6.0" fill="#231f20" stroke="#231f20" stroke-width="0.12" textLength="3.33" lengthAdjust="spacingAndGlyphs">II</text>
<text x="162.9" y="281" font-size="6.0" fill="#231f20" stroke="#231f20" stroke-width="0.12" textLength="5" lengthAdjust="spacingAndGlyphs">III</text>
<text x="177.8" y="281" font-size="6.0" fill="#231f20" stroke="#231f20" stroke-width="0.12" textLength="5.67" lengthAdjust="spacingAndGlyphs">IV</text>
<line x1="233" y1="187.2" x2="233" y2="272.4" stroke="#231f20" stroke-width="1.25"/>
<line x1="230.1" y1="269.5" x2="233" y2="269.5" stroke="#231f20" stroke-width="0.9"/>
<text x="222.84" y="271.72" font-size="6.3" fill="#231f20" stroke="#231f20" stroke-width="0.12" textLength="3.71" lengthAdjust="spacingAndGlyphs">0</text>
<line x1="230.1" y1="253.64" x2="233" y2="253.64" stroke="#231f20" stroke-width="0.9"/>
<text x="222.93" y="255.86" font-size="6.3" fill="#231f20" stroke="#231f20" stroke-width="0.12" textLength="3.71" lengthAdjust="spacingAndGlyphs">2</text>
<line x1="230.1" y1="237.78" x2="233" y2="237.78" stroke="#231f20" stroke-width="0.9"/>
<text x="222.78" y="240" font-size="6.3" fill="#231f20" stroke="#231f20" stroke-width="0.12" textLength="3.71" lengthAdjust="spacingAndGlyphs">4</text>
<line x1="230.1" y1="221.92" x2="233" y2="221.92" stroke="#231f20" stroke-width="0.9"/>
<text x="222.88" y="224.14" font-size="6.3" fill="#231f20" stroke="#231f20" stroke-width="0.12" textLength="3.71" lengthAdjust="spacingAndGlyphs">6</text>
<line x1="230.1" y1="206.06" x2="233" y2="206.06" stroke="#231f20" stroke-width="0.9"/>
<text x="222.88" y="208.28" font-size="6.3" fill="#231f20" stroke="#231f20" stroke-width="0.12" textLength="3.71" lengthAdjust="spacingAndGlyphs">8</text>
<line x1="230.1" y1="190.2" x2="233" y2="190.2" stroke="#231f20" stroke-width="0.9"/>
<text x="219.14" y="192.42" font-size="6.3" fill="#231f20" stroke="#231f20" stroke-width="0.12" textLength="7.43" lengthAdjust="spacingAndGlyphs">10</text>
<line x1="233" y1="269.5" x2="305.7" y2="269.5" stroke="#231f20" stroke-width="1.25"/>
<line x1="267.9" y1="269.5" x2="267.9" y2="272.4" stroke="#231f20" stroke-width="0.9"/>
<line x1="303.1" y1="269.5" x2="303.1" y2="272.4" stroke="#231f20" stroke-width="0.9"/>
<rect x="241.05" y="236.25" width="9" height="33.25" fill="#2c4a7e" stroke="#16316a" stroke-width="0.9"/>
<rect x="250.95" y="234.85" width="9" height="34.65" fill="#a3002a" stroke="#88001f" stroke-width="0.9"/>
<rect x="276.15" y="256.75" width="8.9" height="12.75" fill="#2c4a7e" stroke="#16316a" stroke-width="0.9"/>
<rect x="285.95" y="258.45" width="8.7" height="11.05" fill="#a3002a" stroke="#88001f" stroke-width="0.9"/>
<line x1="245.6" y1="231.5" x2="245.6" y2="239.7" stroke="#231f20" stroke-width="1.1"/>
<line x1="243.9" y1="231.5" x2="247.3" y2="231.5" stroke="#231f20" stroke-width="1.1"/>
<line x1="243.9" y1="239.7" x2="247.3" y2="239.7" stroke="#231f20" stroke-width="1.1"/>
<line x1="255.4" y1="231.3" x2="255.4" y2="237.2" stroke="#231f20" stroke-width="1.1"/>
<line x1="253.7" y1="231.3" x2="257.1" y2="231.3" stroke="#231f20" stroke-width="1.1"/>
<line x1="253.7" y1="237.2" x2="257.1" y2="237.2" stroke="#231f20" stroke-width="1.1"/>
<line x1="280.5" y1="252.7" x2="280.5" y2="259.5" stroke="#231f20" stroke-width="1.1"/>
<line x1="278.8" y1="252.7" x2="282.2" y2="252.7" stroke="#231f20" stroke-width="1.1"/>
<line x1="278.8" y1="259.5" x2="282.2" y2="259.5" stroke="#231f20" stroke-width="1.1"/>
<line x1="290.3" y1="255.3" x2="290.3" y2="260.6" stroke="#231f20" stroke-width="1.1"/>
<line x1="288.6" y1="255.3" x2="292" y2="255.3" stroke="#231f20" stroke-width="1.1"/>
<line x1="288.6" y1="260.6" x2="292" y2="260.6" stroke="#231f20" stroke-width="1.1"/>
<text transform="rotate(-90)" x="-241.12" y="215.7" font-size="8.6" fill="#231f20" stroke="#231f20" stroke-width="0.12" textLength="25.92" lengthAdjust="spacingAndGlyphs">Cells (%)</text>
<rect x="274.1" y="194.55" width="3.4" height="3.3" fill="#1f3a78"/>
<rect x="274.1" y="202.35" width="3.4" height="3.3" fill="#a0002a"/>
<text x="280.09" y="197.85" font-size="5.6" fill="#231f20" stroke="#231f20" stroke-width="0.1" textLength="7.62" lengthAdjust="spacingAndGlyphs">AA</text>
<text x="279.89" y="205.7" font-size="5.6" fill="#231f20" stroke="#231f20" stroke-width="0.1" textLength="6.33" lengthAdjust="spacingAndGlyphs">SS</text>
<text x="234.98" y="280.9" font-size="5.8" fill="#231f20" stroke="#231f20" stroke-width="0.18" textLength="30.63" lengthAdjust="spacingAndGlyphs">AnnexinV+</text>
<text x="240.46" y="288.3" font-size="5.8" fill="#231f20" stroke="#231f20" stroke-width="0.18" textLength="19.44" lengthAdjust="spacingAndGlyphs">7ADD-</text>
<text x="269.68" y="280.9" font-size="5.8" fill="#231f20" stroke="#231f20" stroke-width="0.18" textLength="31.34" lengthAdjust="spacingAndGlyphs">AnnexinV+</text>
<text x="273.64" y="288.3" font-size="5.8" fill="#231f20" stroke="#231f20" stroke-width="0.18" textLength="22.3" lengthAdjust="spacingAndGlyphs">7ADD+</text>
<text x="334.98" y="280.9" font-size="5.8" fill="#231f20" stroke="#231f20" stroke-width="0.18" textLength="30.63" lengthAdjust="spacingAndGlyphs">AnnexinV+</text>
<text x="340.46" y="288.3" font-size="5.8" fill="#231f20" stroke="#231f20" stroke-width="0.18" textLength="19.44" lengthAdjust="spacingAndGlyphs">7ADD-</text>
<text x="369.68" y="280.9" font-size="5.8" fill="#231f20" stroke="#231f20" stroke-width="0.18" textLength="31.34" lengthAdjust="spacingAndGlyphs">AnnexinV+</text>
<text x="373.64" y="288.3" font-size="5.8" fill="#231f20" stroke="#231f20" stroke-width="0.18" textLength="22.3" lengthAdjust="spacingAndGlyphs">7ADD+</text>
<line x1="332.5" y1="186" x2="332.5" y2="272.4" stroke="#231f20" stroke-width="1.25"/>
<line x1="329.6" y1="269.6" x2="332.5" y2="269.6" stroke="#231f20" stroke-width="0.9"/>
<text x="323.24" y="271.82" font-size="6.3" fill="#231f20" stroke="#231f20" stroke-width="0.12" textLength="3.71" lengthAdjust="spacingAndGlyphs">0</text>
<line x1="329.6" y1="253.46" x2="332.5" y2="253.46" stroke="#231f20" stroke-width="0.9"/>
<text x="323.33" y="255.68" font-size="6.3" fill="#231f20" stroke="#231f20" stroke-width="0.12" textLength="3.71" lengthAdjust="spacingAndGlyphs">2</text>
<line x1="329.6" y1="237.32" x2="332.5" y2="237.32" stroke="#231f20" stroke-width="0.9"/>
<text x="323.18" y="239.54" font-size="6.3" fill="#231f20" stroke="#231f20" stroke-width="0.12" textLength="3.71" lengthAdjust="spacingAndGlyphs">4</text>
<line x1="329.6" y1="221.18" x2="332.5" y2="221.18" stroke="#231f20" stroke-width="0.9"/>
<text x="323.28" y="223.4" font-size="6.3" fill="#231f20" stroke="#231f20" stroke-width="0.12" textLength="3.71" lengthAdjust="spacingAndGlyphs">6</text>
<line x1="329.6" y1="205.04" x2="332.5" y2="205.04" stroke="#231f20" stroke-width="0.9"/>
<text x="323.28" y="207.26" font-size="6.3" fill="#231f20" stroke="#231f20" stroke-width="0.12" textLength="3.71" lengthAdjust="spacingAndGlyphs">8</text>
<line x1="329.6" y1="188.9" x2="332.5" y2="188.9" stroke="#231f20" stroke-width="0.9"/>
<text x="319.54" y="191.12" font-size="6.3" fill="#231f20" stroke="#231f20" stroke-width="0.12" textLength="7.43" lengthAdjust="spacingAndGlyphs">10</text>
<line x1="332.5" y1="269.5" x2="405.4" y2="269.5" stroke="#231f20" stroke-width="1.25"/>
<line x1="367.2" y1="269.5" x2="367.2" y2="272.4" stroke="#231f20" stroke-width="0.9"/>
<line x1="402.8" y1="269.5" x2="402.8" y2="272.4" stroke="#231f20" stroke-width="0.9"/>
<rect x="340.85" y="237.85" width="9" height="31.65" fill="#2c4a7e" stroke="#16316a" stroke-width="0.9"/>
<rect x="350.75" y="213.05" width="9.2" height="56.45" fill="#a3002a" stroke="#88001f" stroke-width="0.9"/>
<rect x="375.65" y="252.65" width="9.1" height="16.85" fill="#2c4a7e" stroke="#16316a" stroke-width="0.9"/>
<rect x="385.65" y="249.35" width="8.7" height="20.15" fill="#a3002a" stroke="#88001f" stroke-width="0.9"/>
<line x1="345.3" y1="231" x2="345.3" y2="243.3" stroke="#231f20" stroke-width="1.1"/>
<line x1="343.6" y1="231" x2="347" y2="231" stroke="#231f20" stroke-width="1.1"/>
<line x1="343.6" y1="243.3" x2="347" y2="243.3" stroke="#231f20" stroke-width="1.1"/>
<line x1="355.2" y1="206.3" x2="355.2" y2="218" stroke="#231f20" stroke-width="1.1"/>
<line x1="353.5" y1="206.3" x2="356.9" y2="206.3" stroke="#231f20" stroke-width="1.1"/>
<line x1="353.5" y1="218" x2="356.9" y2="218" stroke="#231f20" stroke-width="1.1"/>
<text x="355.2" y="206.02" font-size="5.5" text-anchor="middle" fill="#231f20">*</text>
<line x1="380" y1="248" x2="380" y2="256.5" stroke="#231f20" stroke-width="1.1"/>
<line x1="378.3" y1="248" x2="381.7" y2="248" stroke="#231f20" stroke-width="1.1"/>
<line x1="378.3" y1="256.5" x2="381.7" y2="256.5" stroke="#231f20" stroke-width="1.1"/>
<line x1="390.3" y1="239.3" x2="390.3" y2="258.1" stroke="#231f20" stroke-width="1.1"/>
<line x1="388.6" y1="239.3" x2="392" y2="239.3" stroke="#231f20" stroke-width="1.1"/>
<line x1="388.6" y1="258.1" x2="392" y2="258.1" stroke="#231f20" stroke-width="1.1"/>
<text transform="rotate(-90)" x="-240.42" y="315.5" font-size="8.6" fill="#231f20" stroke="#231f20" stroke-width="0.12" textLength="26.23" lengthAdjust="spacingAndGlyphs">Cells (%)</text>
<line x1="456.6" y1="191.4" x2="456.6" y2="272.1" stroke="#231f20" stroke-width="1.25"/>
<line x1="453.7" y1="269.2" x2="456.6" y2="269.2" stroke="#231f20" stroke-width="0.9"/>
<text x="447.94" y="271.42" font-size="6.3" fill="#231f20" stroke="#231f20" stroke-width="0.12" textLength="3.71" lengthAdjust="spacingAndGlyphs">0</text>
<line x1="453.7" y1="254.18" x2="456.6" y2="254.18" stroke="#231f20" stroke-width="0.9"/>
<text x="444.24" y="256.4" font-size="6.3" fill="#231f20" stroke="#231f20" stroke-width="0.12" textLength="7.43" lengthAdjust="spacingAndGlyphs">10</text>
<line x1="453.7" y1="239.16" x2="456.6" y2="239.16" stroke="#231f20" stroke-width="0.9"/>
<text x="444.24" y="241.38" font-size="6.3" fill="#231f20" stroke="#231f20" stroke-width="0.12" textLength="7.43" lengthAdjust="spacingAndGlyphs">20</text>
<line x1="453.7" y1="224.14" x2="456.6" y2="224.14" stroke="#231f20" stroke-width="0.9"/>
<text x="444.24" y="226.36" font-size="6.3" fill="#231f20" stroke="#231f20" stroke-width="0.12" textLength="7.43" lengthAdjust="spacingAndGlyphs">30</text>
<line x1="453.7" y1="209.12" x2="456.6" y2="209.12" stroke="#231f20" stroke-width="0.9"/>
<text x="444.24" y="211.34" font-size="6.3" fill="#231f20" stroke="#231f20" stroke-width="0.12" textLength="7.43" lengthAdjust="spacingAndGlyphs">40</text>
<line x1="453.7" y1="194.1" x2="456.6" y2="194.1" stroke="#231f20" stroke-width="0.9"/>
<text x="444.24" y="196.32" font-size="6.3" fill="#231f20" stroke="#231f20" stroke-width="0.12" textLength="7.43" lengthAdjust="spacingAndGlyphs">50</text>
<line x1="456.6" y1="269.2" x2="512.7" y2="269.2" stroke="#231f20" stroke-width="1.25"/>
<line x1="483.3" y1="269.2" x2="483.3" y2="272.1" stroke="#231f20" stroke-width="0.9"/>
<line x1="510.2" y1="269.2" x2="510.2" y2="272.1" stroke="#231f20" stroke-width="0.9"/>
<rect x="464.85" y="237.65" width="9.9" height="31.55" fill="#2c4a7e" stroke="#16316a" stroke-width="0.9"/>
<rect x="491.45" y="211.55" width="10.1" height="57.65" fill="#a3002a" stroke="#88001f" stroke-width="0.9"/>
<line x1="469.9" y1="232.4" x2="469.9" y2="240.6" stroke="#231f20" stroke-width="1.1"/>
<line x1="468.2" y1="232.4" x2="471.6" y2="232.4" stroke="#231f20" stroke-width="1.1"/>
<line x1="468.2" y1="240.6" x2="471.6" y2="240.6" stroke="#231f20" stroke-width="1.1"/>
<line x1="496.6" y1="208.8" x2="496.6" y2="213" stroke="#231f20" stroke-width="1.1"/>
<line x1="494.9" y1="208.8" x2="498.3" y2="208.8" stroke="#231f20" stroke-width="1.1"/>
<line x1="494.9" y1="213" x2="498.3" y2="213" stroke="#231f20" stroke-width="1.1"/>
<text x="496.6" y="209.12" font-size="5.5" text-anchor="middle" fill="#231f20">*</text>
<text x="465.18" y="280.9" font-size="6.6" fill="#231f20" stroke="#231f20" stroke-width="0.15" textLength="9.23" lengthAdjust="spacingAndGlyphs">AA</text>
<text x="492.53" y="280.9" font-size="6.6" fill="#231f20" stroke="#231f20" stroke-width="0.15" textLength="7.94" lengthAdjust="spacingAndGlyphs">SS</text>
<text transform="rotate(-90)" x="-247.72" y="428" font-size="8.0" fill="#231f20" stroke="#231f20" stroke-width="0.12" textLength="33.36" lengthAdjust="spacingAndGlyphs">AnnexinV+</text>
<text transform="rotate(-90)" x="-261.48" y="437.7" font-size="8.0" fill="#231f20" stroke="#231f20" stroke-width="0.12" textLength="63.18" lengthAdjust="spacingAndGlyphs">orthochromatic E. (%)</text>
<rect x="0" y="0" width="520" height="1" fill="#000"/>
<rect x="0" y="0" width="1.2" height="305" fill="#000"/>
<rect x="518.6" y="0" width="1.4" height="305" fill="#000"/>
<rect x="0" y="303.6" width="520" height="1.4" fill="#000"/>
</svg>
</body></html>
